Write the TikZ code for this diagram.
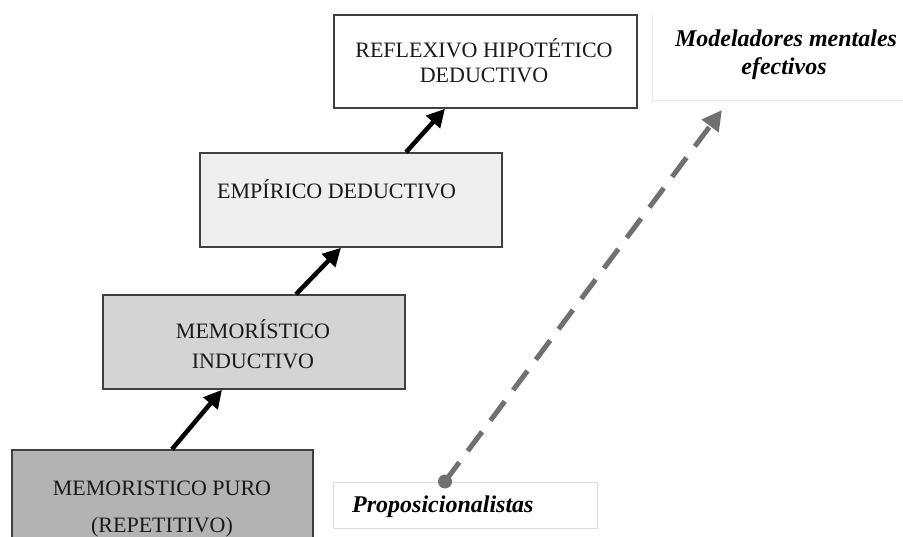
\documentclass[tikz,border=0pt]{standalone}
\usepackage{fontspec}
\setmainfont{Liberation Serif}
\usetikzlibrary{arrows.meta,calc}
\definecolor{boxline}{HTML}{404040}
\definecolor{fillA}{HTML}{B3B3B3}
\definecolor{fillB}{HTML}{D4D4D4}
\definecolor{fillC}{HTML}{EFEFEF}
\definecolor{dashgray}{HTML}{707070}
\definecolor{faint}{HTML}{DCDCDC}
\definecolor{fainter}{HTML}{E8E8E8}
\definecolor{textcol}{HTML}{1A1A1A}
\begin{document}
\begin{tikzpicture}[x=1pt,y=-1pt,
  levelbox/.style={draw=boxline,line width=1.5pt,rectangle,inner sep=0pt},
  lbl/.style={inner sep=0pt,text=textcol,font=\fontsize{22}{25}\selectfont},
  note/.style={inner sep=0pt,font=\fontsize{24}{28}\selectfont\bfseries\itshape},
  uparrow/.style={line width=4.5pt,black,-{Triangle[length=18pt,width=18pt]}},
  dasharrow/.style={line width=5pt,dashgray,dash pattern=on 24pt off 14pt,-{Triangle[length=20pt,width=20pt]}}
]
\useasboundingbox (0,0) rectangle (903,537);
\fill[white] (0,0) rectangle (903,537);
% level boxes
\node[levelbox,fill=fillA,minimum width=301pt,minimum height=110pt] (b1) at (162.5,505) {};
\node[levelbox,fill=fillB,minimum width=302pt,minimum height=94pt] (b2) at (254,342) {};
\node[levelbox,fill=fillC,minimum width=302pt,minimum height=94pt] (b3) at (351,200) {};
\node[levelbox,fill=white,minimum width=303pt,minimum height=93pt] (b4) at (485.5,61.5) {};
% texts
\node[lbl,anchor=base] (t1a) at (162,495) {MEMORISTICO PURO};
\node[lbl,anchor=base] (t1b) at (162,532) {(REPETITIVO)};
\node[lbl,anchor=base] (t2a) at (253,339) {MEMORÍSTICO};
\node[lbl,anchor=base] (t2b) at (253,369) {INDUCTIVO};
\node[lbl,anchor=base west] (t3) at (217,199) {EMPÍRICO DEDUCTIVO};
\node[lbl,anchor=base] (t4a) at (484,58) {REFLEXIVO HIPOTÉTICO};
\node[lbl,anchor=base] (t4b) at (484,83) {DEDUCTIVO};
% side labels
\node[draw=faint,line width=1pt,fill=white,minimum width=264pt,minimum height=46pt,inner sep=0pt] (pbox) at (465,505) {};
\node[note,anchor=base west] (prop) at (352,512) {Proposicionalistas};
\node[fill=white,minimum width=250pt,minimum height=85pt,inner sep=0pt] (mbox) at (778,57.5) {};
\draw[fainter,line width=1pt] (mbox.north west) -- (mbox.south west) -- (mbox.south east);
\node[note,anchor=base] (mod1) at (786,47) {Modeladores mentales};
\node[note,anchor=base] (mod2) at (784,75) {efectivos};
% arrows between levels
\draw[uparrow] (172,0 |- b1.north) -- (222,0 |- b2.south);
\draw[uparrow] (296,0 |- b2.north) -- (341,0 |- b3.south);
\draw[uparrow] (406,0 |- b3.north) -- (445,0 |- b4.south);
% dashed arrow
\coordinate (dstart) at (445,0 |- pbox.north);
\coordinate (dend) at (722,110);
\draw[dasharrow] (dstart) -- (dend);
\fill[dashgray] (dstart) circle (7pt);
\end{tikzpicture}
\end{document}
